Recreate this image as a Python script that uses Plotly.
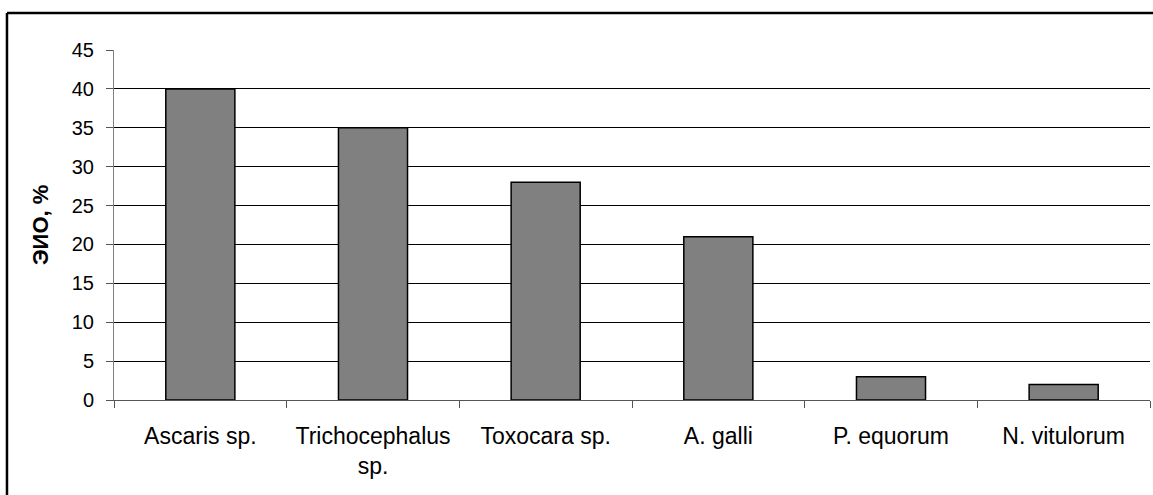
import plotly.graph_objects as go

categories = ["Ascaris sp.", "Trichocephalus<br>sp.", "Toxocara sp.", "A. galli", "P. equorum", "N. vitulorum"]
values = [40, 35, 28, 21, 3, 2]
y_ticks = [0, 5, 10, 15, 20, 25, 30, 35, 40, 45]
y_title = "ЭИО, %"

FONT = "Liberation Sans, Arial, sans-serif"

fig = go.Figure()
fig.add_trace(go.Bar(
    x=categories, y=values,
    marker=dict(color="#808080", line=dict(color="black", width=1.5)),
    width=0.4,
))

fig.update_layout(
    width=1153, height=495,
    margin=dict(l=114, r=3, t=50, b=95),
    paper_bgcolor="white", plot_bgcolor="white",
    showlegend=False,
    font=dict(family=FONT, color="black"),
    xaxis=dict(
        type="category",
        showline=True, linecolor="#555", linewidth=1,
        ticks="outside", tickson="boundaries", ticklen=7, tickcolor="#555",
        tickfont=dict(size=23, family=FONT, color="black"),
        showgrid=False,
        ticklabelstandoff=15,
    ),
    yaxis=dict(
        range=[0, 45], tickvals=y_ticks,
        showline=True, linecolor="#808080", linewidth=1,
        ticks="outside", ticklen=7, tickcolor="#555",
        tickfont=dict(size=20, family=FONT, color="black"),
        showgrid=True, gridcolor="black", gridwidth=1,
        zeroline=False,
        ticklabelstandoff=8,
    ),
    annotations=[dict(
        text="<b>" + y_title + "</b>", textangle=-90,
        xref="paper", yref="paper", x=-0.0714, y=0.5,
        xanchor="center", yanchor="middle", showarrow=False,
        font=dict(size=22, family=FONT, color="black"),
    )],
    shapes=[
        dict(type="line", xref="paper", yref="paper",
             x0=-0.1033, x1=1.01, y0=1.1057, y1=1.1057,
             line=dict(color="black", width=2.5), layer="above"),
        dict(type="line", xref="paper", yref="paper",
             x0=-0.1033, x1=-0.1033, y0=-0.4, y1=1.1057,
             line=dict(color="black", width=2.5), layer="above"),
    ],
)

fig.write_html(
    "out.html",
    config={"displayModeBar": False},
    post_script="document.body.style.margin='0';document.body.style.overflow='hidden';",
)
